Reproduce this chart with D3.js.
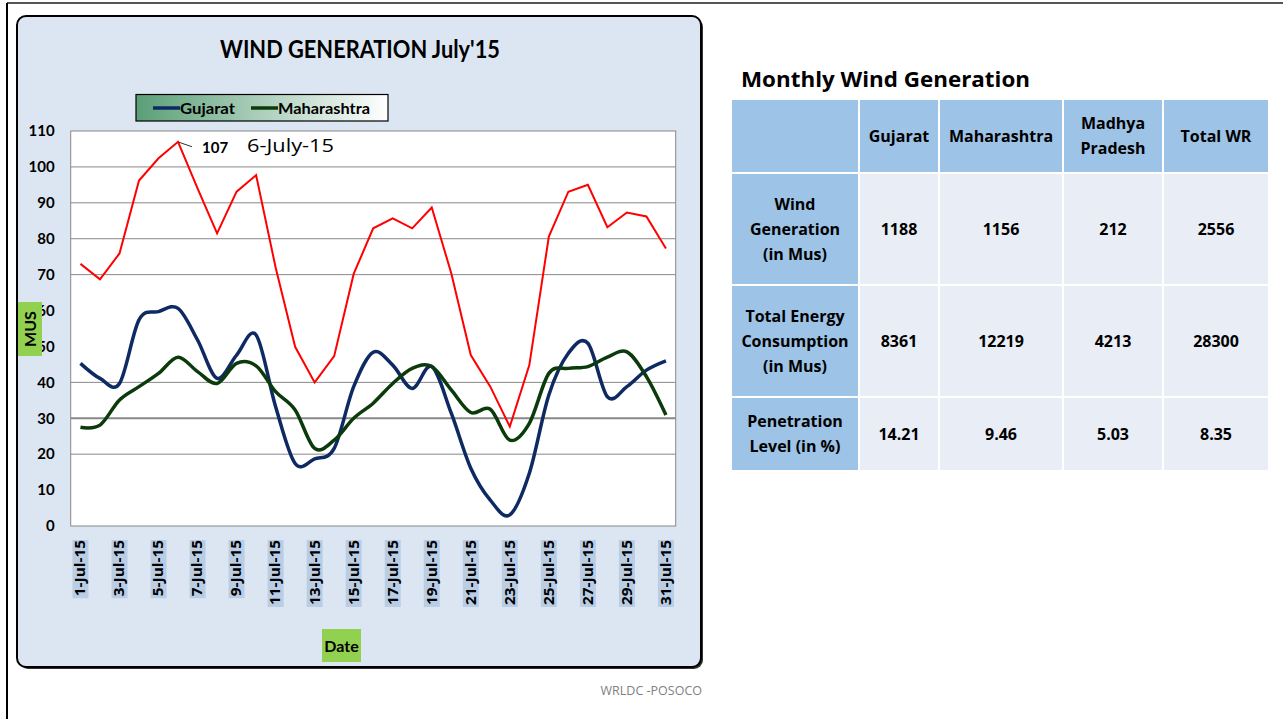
<!DOCTYPE html>
<html>
<head>
<meta charset="utf-8">
<script src="https://cdn.jsdelivr.net/npm/d3@7"></script>
<style>
  body { margin: 0; background: #fff; }
  text { font-family: Lato, "Open Sans", sans-serif; }
</style>
</head>
<body>
<script>
// daily data, July 2015 (MUs)
var days = d3.range(1, 32).map(function(d) { return d + "-Jul-15"; });
var totalWR = [73, 68.7, 75.9, 96.2, 102.4, 107, 94, 81.5, 93.1, 97.7, 72, 49.9, 40, 47.3, 70.2, 82.9,
               85.7, 82.9, 88.7, 70.4, 47.6, 38.8, 27.7, 44.8, 80.6, 93.1, 95, 83.2, 87.3, 86.2, 77.3];
var gujarat = [45.3, 41.1, 39.7, 57.4, 59.7, 60.6, 51.8, 41.1, 47.6, 53.2, 33.2, 17.4, 18.7, 21.6, 38.8, 48.4,
               44.8, 38.3, 44.4, 31.4, 16.1, 7.2, 3.1, 14.7, 36.5, 48.1, 50.9, 36, 38.8, 43.4, 46];
var maharashtra = [27.5, 28.1, 35.1, 38.8, 42.5, 47, 43, 39.7, 45.3, 44.6, 37.4, 32.3, 21.6, 23.9, 30, 34.2,
                   39.7, 43.9, 44.4, 37.9, 31.6, 32.5, 23.9, 28.6, 42.5, 43.9, 44.4, 47, 48.5, 41.6, 30.9];
var yTicks = d3.range(0, 111, 10);
var gridValues = [100, 90, 80, 70, 40, 30, 20];

// monthly table
var tableCols = [["Gujarat"], ["Maharashtra"], ["Madhya", "Pradesh"], ["Total WR"]];
var rowLabels = [["Wind", "Generation", "(in Mus)"], ["Total Energy", "Consumption", "(in Mus)"], ["Penetration", "Level (in %)"]];
var tableValues = [["1188", "1156", "212", "2556"],
                   ["8361", "12219", "4213", "28300"],
                   ["14.21", "9.46", "5.03", "8.35"]];

var width = 1283, height = 719;

var svg = d3.select("body").append("svg")
    .attr("width", width)
    .attr("height", height);

// slide frame
svg.append("line").attr("x1", 7).attr("x2", width).attr("y1", 3).attr("y2", 3)
    .attr("stroke", "#555").attr("stroke-width", 2);
svg.append("line").attr("x1", 7).attr("x2", 7).attr("y1", 3).attr("y2", height)
    .attr("stroke", "#000").attr("stroke-width", 2);

// chart panel
svg.append("rect").attr("x", 19).attr("y", 18).attr("width", 684).attr("height", 651)
    .attr("rx", 9).attr("fill", "#333");
svg.append("rect").attr("x", 17).attr("y", 16).attr("width", 684).attr("height", 651)
    .attr("rx", 9).attr("fill", "#dce6f2").attr("stroke", "#000").attr("stroke-width", 2);

svg.append("text").attr("x", 360).attr("y", 58).attr("text-anchor", "middle")
    .attr("font-size", 24).attr("font-weight", "bold")
    .attr("textLength", 280).attr("lengthAdjust", "spacingAndGlyphs")
    .text("WIND GENERATION July'15");

var xScale = d3.scaleBand().domain(days).range([70.7, 675.7]),
    yScale = d3.scaleLinear().domain([0, 110]).range([526, 131]);

var g = svg.append("g");

g.append("rect").attr("x", 70.7).attr("y", 131).attr("width", 605).attr("height", 395)
    .attr("fill", "#fff").attr("stroke", "#888");

g.selectAll(".grid")
    .data(gridValues)
    .enter().append("line")
    .attr("class", "grid")
    .attr("x1", 70.7).attr("x2", 675.7)
    .attr("y1", function(d) { return yScale(d); })
    .attr("y2", function(d) { return yScale(d); })
    .attr("stroke", "#888")
    .attr("stroke-width", function(d) { return d == 30 ? 2 : 1; });

// y axis labels
var yAxis = g.append("g")
    .attr("transform", "translate(70.7,0)")
    .call(d3.axisLeft(yScale).tickValues(yTicks).tickSize(0).tickPadding(16));
yAxis.select(".domain").remove();
yAxis.selectAll("text").attr("font-size", 15).attr("font-weight", "bold")
    .attr("fill", "#000").style("font-family", "Lato, sans-serif");

// x tick labels (odd days), rotated with light blue boxes
var cx = function(d) { return xScale(d) + xScale.bandwidth() / 2; };
var xl = g.selectAll(".xl")
    .data(days.filter(function(d, i) { return i % 2 == 0; }))
    .enter().append("g")
    .attr("class", "xl")
    .attr("transform", function(d) { return "translate(" + cx(d) + ",540) rotate(-90)"; });
xl.append("text")
    .attr("x", 0).attr("dy", "0.36em")
    .attr("text-anchor", "end")
    .attr("font-size", 13.5).attr("font-weight", "bold")
    .style("font-family", "'Open Sans', sans-serif")
    .text(function(d) { return d; });
xl.each(function() {
    var t = d3.select(this).select("text"), len = t.node().getComputedTextLength() * 1.14;
    t.attr("textLength", len).attr("lengthAdjust", "spacingAndGlyphs");
    d3.select(this).insert("rect", "text")
        .attr("x", -len - 2).attr("y", -8).attr("width", len + 2).attr("height", 16)
        .attr("fill", "#b9cde5");
});

// lines
var line = function(vals, curve) {
    return d3.line()
        .x(function(d, i) { return cx(days[i]); })
        .y(function(d) { return yScale(d); })
        .curve(curve)(vals);
};
g.append("path").attr("d", line(totalWR, d3.curveLinear))
    .attr("fill", "none").attr("stroke", "#ff0000").attr("stroke-width", 2);
g.append("path").attr("d", line(gujarat, d3.curveCardinal))
    .attr("fill", "none").attr("stroke", "#0f2a63").attr("stroke-width", 3.5)
    .attr("stroke-linejoin", "round");
g.append("path").attr("d", line(maharashtra, d3.curveCardinal))
    .attr("fill", "none").attr("stroke", "#0b3a0b").attr("stroke-width", 3.5)
    .attr("stroke-linejoin", "round");

// peak annotation
var peak = d3.maxIndex(totalWR);
g.append("line")
    .attr("x1", cx(days[peak]) + 1).attr("y1", yScale(totalWR[peak]) + 0.5)
    .attr("x2", cx(days[peak]) + 14).attr("y2", yScale(totalWR[peak]) + 5)
    .attr("stroke", "#000").attr("stroke-width", 0.8);
g.append("text").attr("x", 202).attr("y", 153)
    .attr("font-size", 15).attr("font-weight", "bold")
    .text(d3.format("d")(totalWR[peak]));
g.append("text").attr("x", 247).attr("y", 152)
    .attr("font-size", 18).style("font-family", "'Open Sans', sans-serif")
    .attr("textLength", 87).attr("lengthAdjust", "spacingAndGlyphs")
    .text("6-July-15");

// legend
var grad = svg.append("defs").append("linearGradient").attr("id", "lg");
grad.append("stop").attr("offset", "0%").attr("stop-color", "#5a9f78");
grad.append("stop").attr("offset", "100%").attr("stop-color", "#ffffff");
svg.append("rect").attr("x", 136).attr("y", 94.5).attr("width", 252).attr("height", 26.5)
    .attr("fill", "url(#lg)").attr("stroke", "#000").attr("stroke-width", 1.2);
var legendItems = [["Gujarat", "#0f2a63", 153, 55], ["Maharashtra", "#0b3a0b", 251, 92]];
legendItems.forEach(function(it) {
    svg.append("line").attr("x1", it[2]).attr("x2", it[2] + 27).attr("y1", 108).attr("y2", 108)
        .attr("stroke", it[1]).attr("stroke-width", 3.5);
    svg.append("text").attr("x", it[2] + 27).attr("y", 113.5)
        .attr("font-size", 16).attr("font-weight", "bold")
        .attr("textLength", it[3]).attr("lengthAdjust", "spacingAndGlyphs")
        .text(it[0]);
});

// axis titles
svg.append("rect").attr("x", 18).attr("y", 302).attr("width", 24).attr("height", 54).attr("fill", "#92d050");
svg.append("text").attr("transform", "translate(35.5,329) rotate(-90)")
    .attr("text-anchor", "middle").attr("font-size", 16).attr("font-weight", "bold")
    .text("MUS");
svg.append("rect").attr("x", 322).attr("y", 629).attr("width", 39).attr("height", 33).attr("fill", "#92d050");
svg.append("text").attr("x", 341.5).attr("y", 651.5)
    .attr("text-anchor", "middle").attr("font-size", 16).attr("font-weight", "bold")
    .text("Date");

svg.append("text").attr("x", 702).attr("y", 695).attr("text-anchor", "end")
    .attr("font-size", 12.5).attr("fill", "#808080")
    .style("font-family", "'Open Sans', sans-serif")
    .text("WRLDC -POSOCO");

// table
svg.append("text").attr("x", 741).attr("y", 87)
    .attr("font-size", 21).attr("font-weight", "bold")
    .style("font-family", "'Open Sans', sans-serif")
    .attr("textLength", 289).attr("lengthAdjust", "spacingAndGlyphs")
    .text("Monthly Wind Generation");

var colX = [731, 859, 939, 1063, 1163, 1269],
    rowY = [99, 173, 285, 397, 471];
var tbl = svg.append("g");
for (var r = 0; r < 4; r++) {
    for (var c = 0; c < 5; c++) {
        var header = (r == 0 || c == 0);
        tbl.append("rect")
            .attr("x", colX[c]).attr("y", rowY[r])
            .attr("width", colX[c + 1] - colX[c]).attr("height", rowY[r + 1] - rowY[r])
            .attr("fill", header ? "#9dc3e6" : "#e9edf5")
            .attr("stroke", "#fff").attr("stroke-width", 2);
        var lines;
        if (r == 0 && c == 0) lines = [];
        else if (r == 0) lines = tableCols[c - 1];
        else if (c == 0) lines = rowLabels[r - 1];
        else lines = [tableValues[r - 1][c - 1]];
        var mx = (colX[c] + colX[c + 1]) / 2, my = (rowY[r] + rowY[r + 1]) / 2;
        lines.forEach(function(s, k) {
            tbl.append("text")
                .attr("x", mx)
                .attr("y", my + (k - (lines.length - 1) / 2) * 25)
                .attr("dy", "0.36em")
                .attr("text-anchor", "middle")
                .attr("font-size", 16).attr("font-weight", "bold")
                .style("font-family", "'Open Sans', sans-serif")
                .text(s);
        });
    }
}
</script>
</body>
</html>
